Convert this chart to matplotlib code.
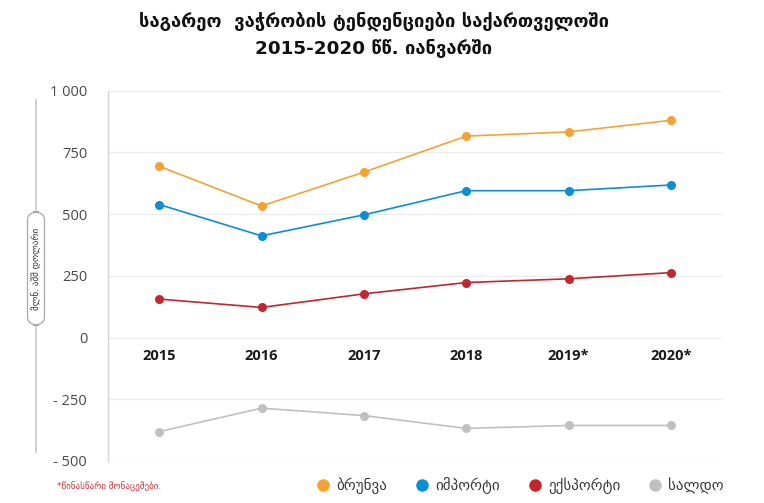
import numpy as np
import matplotlib.pyplot as plt
from matplotlib.lines import Line2D
from matplotlib.patches import FancyBboxPatch

years = ['2015', '2016', '2017', '2018', '2019*', '2020*']
turnover = [694, 533, 670, 816, 833, 880]
imports = [539, 412, 497, 595, 595, 618]
exports = [156, 122, 177, 223, 238, 263]
balance = [-381, -286, -316, -368, -356, -356]

yTicks = [-500, -250, 0, 250, 500, 750, 1000]
yTickLabels = ['- 500', '- 250', '0', '250', '500', '750', '1 000']

seriesNames = ['ბრუნვა', 'იმპორტი', 'ექსპორტი', 'სალდო']
seriesColors = ['#f5a235', '#0a8ed6', '#c1272d', '#c0c0c0']

titleText = 'საგარეო  ვაჭრობის ტენდენციები საქართველოში\n2015-2020 წწ. იანვარში'
unitText = 'მლნ. აშშ დოლარი'
noteText = '*წინასწარი მონაცემები.'

georgian = ['DejaVu Sans']

fig = plt.figure(figsize=(7.64, 5.03), dpi=100)
ax = fig.add_axes([108 / 764, 1 - 461 / 503, (722 - 108) / 764, (461 - 90.7) / 503])

x = np.arange(len(years))
for values, color in zip([turnover, imports, exports, balance], seriesColors):
    ax.plot(x, values, color=color, linewidth=1.2, marker='o', markersize=6.5,
            markeredgewidth=0, zorder=3)

ax.set_xlim(-0.5, 5.5)
ax.set_ylim(-500, 1000)

# year labels sit just under the zero line
ax.spines['bottom'].set_position(('data', 0))
ax.spines['bottom'].set_visible(False)
ax.spines['top'].set_visible(False)
ax.spines['right'].set_visible(False)
ax.spines['left'].set_color('#d5d5d5')
ax.spines['left'].set_linewidth(1)

ax.set_yticks(yTicks)
ax.set_yticklabels(yTickLabels, fontsize=10.5, color='#4a4a4a', family='Open Sans')
ax.tick_params(axis='y', length=0, pad=15)

ax.set_xticks(x)
ax.set_xticklabels(years, fontsize=10.5, fontweight='bold', color='#1a1a1a', family='Open Sans')
ax.tick_params(axis='x', length=0, pad=8)

ax.yaxis.grid(True, color='#ececec', linewidth=0.9)
ax.set_axisbelow(True)

fig.text(374 / 764, 1 - 35 / 503, titleText, ha='center', va='center', fontsize=13.2,
         fontweight='bold', family=georgian, color='#111111', linespacing=1.5)

# unit label with the vertical rule
fig.add_artist(Line2D([36 / 764, 36 / 764], [1 - 100 / 503, 1 - 452 / 503],
                      transform=fig.transFigure, color='#c8c8c8', linewidth=1.2))
box = FancyBboxPatch((27.5 / 764, 1 - 325 / 503), 17 / 764, 113 / 503,
                     boxstyle='round,pad=0,rounding_size=0.015', transform=fig.transFigure,
                     facecolor='white', edgecolor='#a8a8a8', linewidth=0.9, zorder=5)
fig.add_artist(box)
fig.text(36.5 / 764, 1 - 268.5 / 503, unitText, rotation=90, ha='center', va='center',
         fontsize=6.5, family=georgian, color='#333333', zorder=6)

fig.text(57 / 764, 1 - 486 / 503, noteText, ha='left', va='center', fontsize=6.5,
         family=georgian, color='#d0343a')

handles = [Line2D([], [], linestyle='none', marker='o', markersize=9, markeredgewidth=0, color=c)
           for c in seriesColors]
leg = fig.legend(handles, seriesNames, loc='center', bbox_to_anchor=(519 / 764, 1 - 486 / 503),
                 ncol=4, frameon=False, handletextpad=0.3, columnspacing=1.7, handlelength=1.2,
                 prop={'family': georgian, 'size': 10.8})
for t in leg.get_texts():
    t.set_color('#3a3a3a')

fig.savefig('out.png', dpi=100, facecolor='white')
